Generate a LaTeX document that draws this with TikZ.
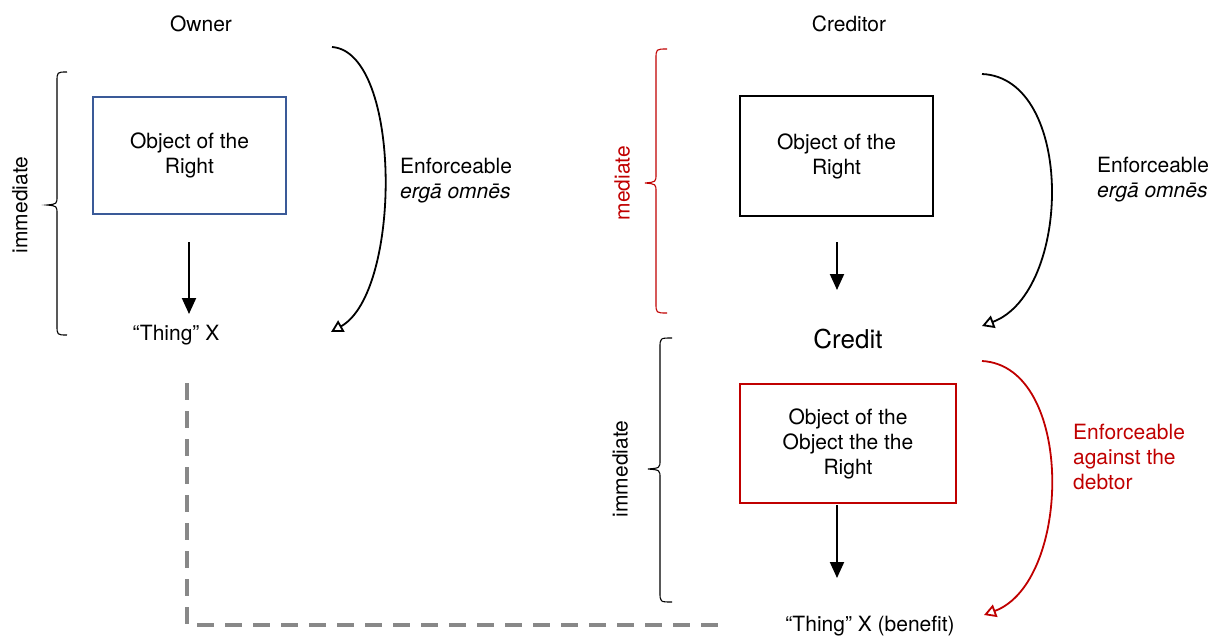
\documentclass[tikz,border=0pt]{standalone}
\usepackage{fontspec}
\setmainfont{TeX Gyre Heros}
\usetikzlibrary{arrows.meta}
\definecolor{boxblue}{HTML}{3A5A98}
\definecolor{dred}{HTML}{C00000}
\definecolor{dgray}{HTML}{888888}
\tikzset{
  txt/.style={inner sep=0pt, font=\fontsize{21}{25}\selectfont, align=center},
  lbl/.style={inner sep=0pt, font=\fontsize{21}{25}\selectfont, align=left, anchor=west},
  rot/.style={inner sep=0pt, font=\fontsize{21}{25}\selectfont, rotate=90},
  objbox/.style={draw, line width=2pt, inner sep=0pt, font=\fontsize{21}{25}\selectfont, align=center},
  downarr/.style={line width=2pt, -{Triangle[length=16pt,width=14pt]}},
  curvearr/.style={line width=1.8pt, -{Triangle[open,length=12pt,width=13pt]}},
  brace/.style={line width=1.1pt},
  link/.style={draw=dgray, line width=4pt, dash pattern=on 17pt off 11pt}
}
\begin{document}
\begin{tikzpicture}[x=1pt,y=-1pt]
\useasboundingbox (0,0) rectangle (1221,637);
% ---------- Owner side ----------
\node[txt] (owner) at (201,24) {Owner};
\node[objbox, draw=boxblue, minimum width=193pt, minimum height=117pt] (boxA) at (189.5,155.5) {Object of the\\Right};
\node[txt] (thingA) at (176,335) {“Thing” X};
\coordinate (a1s) at (189,242);
\coordinate (a1e) at (189,314);
\draw[downarr] (a1s) -- (a1e);
\draw[brace] (67,72) .. controls (57,72) .. (57,82) -- (57,196) .. controls (57,204) .. (47,205) .. controls (57,206) .. (57,214) -- (57,325) .. controls (57,335) .. (67,335);
\node[rot] (immA) at (20,205) {immediate};
\coordinate (cA1) at (332,47);
\coordinate (cA2) at (331,332);
\draw[curvearr] (cA1) .. controls (402,52) and (402,292) .. (cA2);
\node[lbl] (enfA) at (400,181) {Enforceable\\\textit{ergā omnēs}};
% ---------- Creditor side ----------
\node[txt] (creditor) at (849,24) {Creditor};
\node[objbox, minimum width=193pt, minimum height=120pt] (boxB) at (836.5,156) {Object of the\\Right};
\node[txt, font=\fontsize{26}{30}\selectfont] (credit) at (848,339) {Credit};
\coordinate (a2s) at (837,242);
\coordinate (a2e) at (837,290);
\draw[downarr] (a2s) -- (a2e);
\draw[brace, dred] (667,49) .. controls (656,49) .. (656,59) -- (656,174) .. controls (656,182) .. (645,183) .. controls (656,184) .. (656,192) -- (656,303) .. controls (656,313) .. (667,313);
\node[rot, text=dred] (med) at (622,183) {mediate};
\coordinate (cB1) at (982,74);
\coordinate (cB2) at (982,326);
\draw[curvearr] (cB1) .. controls (1075,78) and (1072,292) .. (cB2);
\node[lbl] (enfB) at (1097,180) {Enforceable\\\textit{ergā omnēs}};
% ---------- Credit side ----------
\node[objbox, draw=dred, minimum width=216pt, minimum height=119pt] (boxC) at (848,443.5) {Object of the\\Object the the\\Right};
\coordinate (a3s) at (837,505);
\coordinate (a3e) at (837,578);
\draw[downarr] (a3s) -- (a3e);
\node[txt] (thingB) at (870,626) {“Thing” X (benefit)};
\draw[brace] (672,338) .. controls (660,338) .. (660,348) -- (660,460) .. controls (660,468) .. (648,469) .. controls (660,470) .. (660,478) -- (660,592) .. controls (660,602) .. (672,602);
\node[rot] (immB) at (620,469) {immediate};
\coordinate (cC1) at (982,361);
\coordinate (cC2) at (984,615);
\draw[curvearr, dred] (cC1) .. controls (1075,366) and (1072,582) .. (cC2);
\node[lbl, text=dred] (enfC) at (1073,457) {Enforceable\\against the\\debtor};
% ---------- Link ----------
\coordinate (lk1) at (187,383);
\coordinate (lk2) at (187,625);
\coordinate (lk3) at (718,625);
\draw[link] (lk1) -- (lk2) -- (lk3);
\end{tikzpicture}
\end{document}
